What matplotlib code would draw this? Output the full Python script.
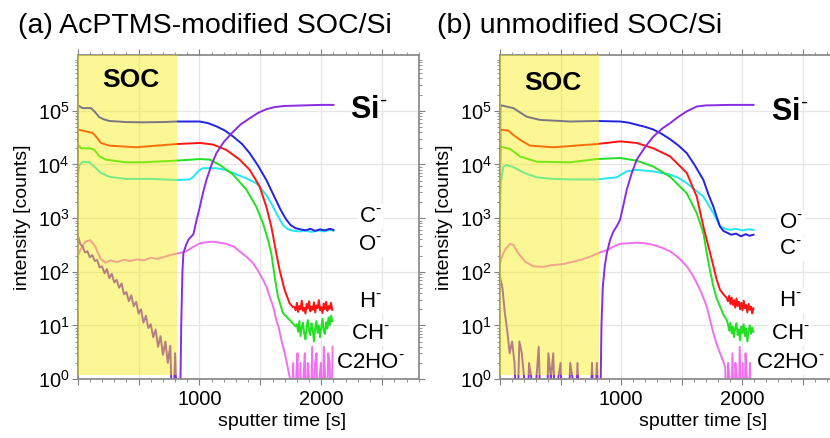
import numpy as np
import matplotlib.pyplot as plt
from matplotlib.ticker import MultipleLocator, FixedLocator, LogLocator, NullFormatter, FuncFormatter

plt.rcParams['font.family'] = ['Liberation Sans', 'DejaVu Sans']
plt.rcParams['mathtext.fontset'] = 'custom'
plt.rcParams['mathtext.rm'] = 'Liberation Sans'
plt.rcParams['mathtext.bf'] = 'Liberation Sans:bold'

# sputter time in s, intensities as log10(counts); -1 = zero counts (off the axis)

# ---- (a) AcPTMS-modified SOC/Si ----
a_c_t = [0, 3, 40, 109, 137, 178, 215, 260, 396, 533, 700, 812, 1003, 1070, 1139, 1210, 1276,
         1350, 1412, 1480, 1549, 1610, 1667, 1710, 1748, 1790, 1830, 1870, 1910, 1950, 1990,
         2030, 2070, 2100]
a_c = [3.5, 5.10, 5.05, 5.05, 4.99, 4.88, 4.84, 4.81, 4.79, 4.785, 4.79, 4.80, 4.80, 4.77, 4.71,
       4.63, 4.52, 4.38, 4.21, 3.98, 3.71, 3.42, 3.15, 2.98, 2.87, 2.81, 2.79, 2.77, 2.80, 2.76,
       2.79, 2.77, 2.80, 2.78]

a_o_t = [0, 3, 14, 41, 96, 137, 191, 260, 396, 600, 812, 921, 950, 976, 1003, 1030, 1139, 1210,
         1276, 1330, 1385, 1467, 1549, 1590, 1631, 1660, 1685, 1715, 1740, 1780, 1822, 1870,
         1920, 1970, 2020, 2070, 2100]
a_o = [3.0, 3.81, 3.99, 4.05, 4.04, 3.96, 3.84, 3.77, 3.73, 3.73, 3.71, 3.72, 3.77, 3.84, 3.90,
       3.93, 3.93, 3.90, 3.84, 3.79, 3.74, 3.65, 3.43, 3.27, 3.09, 2.97, 2.87, 2.81, 2.78, 2.76,
       2.75, 2.77, 2.74, 2.77, 2.75, 2.78, 2.76]

a_h_t = [0, 3, 60, 95, 122, 150, 191, 260, 478, 812, 1003, 1112, 1221, 1330, 1412, 1494, 1549,
         1590, 1631, 1658, 1699, 1740, 1767]
a_h = [3.8, 4.65, 4.62, 4.60, 4.59, 4.52, 4.40, 4.35, 4.32, 4.38, 4.40, 4.37, 4.27, 4.09, 3.90,
       3.59, 3.21, 2.84, 2.34, 2.03, 1.66, 1.41, 1.34]
a_h_tail = [1.34, 1.28, 1.42, 1.25, 1.36, 1.30, 1.46, 1.27, 1.33, 1.22, 1.40, 1.31, 1.45, 1.26,
            1.35, 1.29, 1.43, 1.24, 1.37, 1.32, 1.47, 1.28, 1.34, 1.23, 1.41, 1.30, 1.44, 1.27,
            1.36, 1.31, 1.42, 1.29]  # every 10 s from 1780 s

a_ch_t = [0, 3, 27, 109, 137, 178, 232, 396, 533, 805, 1003, 1085, 1167, 1276, 1385, 1467, 1522,
          1563, 1590, 1617, 1644, 1685, 1740, 1790]
a_ch = [3.6, 4.37, 4.30, 4.30, 4.27, 4.15, 4.09, 4.04, 4.04, 4.07, 4.10, 4.09, 3.99, 3.81, 3.53,
        3.21, 2.90, 2.59, 2.34, 1.91, 1.54, 1.23, 1.10, 0.98]
a_ch_tail = [1.02, 0.88, 1.08, 0.80, 0.97, 1.05, 0.85, 0.74, 0.98, 1.10, 0.90, 0.82, 1.04, 0.93,
             0.70, 0.95, 1.08, 0.86, 1.00, 0.78, 0.96, 1.12, 0.90, 0.84, 1.06, 0.94, 1.15, 1.00,
             1.18, 1.08]  # every 10 s from 1800 s

a_c2ho_t = [0, 20, 62, 103, 144, 185, 226, 270, 322, 380, 430, 486, 540, 600, 650, 700, 760, 814,
            882, 940, 1003, 1060, 1112, 1170, 1221, 1280, 1330, 1390, 1440, 1480, 1522, 1550,
            1576, 1605, 1631, 1652, 1672, 1692, 1713, 1730]
a_c2ho = [2.28, 2.40, 2.56, 2.59, 2.47, 2.25, 2.17, 2.21, 2.18, 2.22, 2.20, 2.23, 2.21, 2.26, 2.24,
          2.27, 2.31, 2.34, 2.37, 2.45, 2.53, 2.55, 2.56, 2.54, 2.52, 2.47, 2.38, 2.27, 2.16, 2.02,
          1.85, 1.72, 1.54, 1.35, 1.10, 0.95, 0.73, 0.55, 0.35, 0.15]
a_c2ho_tail = [0.0, -1, 0.30, -1, 0.0, 0.48, -1, 0.30, -1, 0.0, 0.48, -1, 0.30, 0.0, -1, 0.60,
               -1, 0.30, 0.48, -1, 0.0, 0.30, -1, 0.60, 0.0, -1, 0.48, 0.30, -1, 0.60]  # every 12 s from 1745 s

a_si_early = [2.69, 2.52, 2.47, 2.36, 2.38, 2.27, 2.31, 2.20, 2.22, 2.08, 2.10, 1.97, 2.05, 1.88,
              1.96, 1.80, 1.85, 1.70, 1.78, 1.58, 1.62, 1.45, 1.56, 1.36, 1.44, 1.22, 1.30, 1.05,
              1.18, 0.95, 1.02, 0.78, 0.92, 0.60, 0.80, 0.45, 0.70, 0.30, 0.62, -1, 0.48, -1]  # every 20 s from 0
a_si_t = [838, 850, 860, 868, 890, 910, 950, 975, 1003, 1030, 1057, 1100, 1139, 1200, 1276, 1340,
          1412, 1480, 1549, 1620, 1700, 1850, 2000, 2100]
a_si = [-1, 1.0, 2.0, 2.35, 2.5, 2.6, 2.7, 2.95, 3.21, 3.48, 3.71, 4.0, 4.21, 4.42, 4.61, 4.75,
        4.86, 4.96, 5.03, 5.07, 5.09, 5.10, 5.11, 5.11]

# ---- (b) unmodified SOC/Si ----
b_c_t = [0, 3, 14, 50, 110, 165, 220, 330, 579, 799, 992, 1060, 1129, 1200, 1267, 1335, 1405,
         1475, 1543, 1610, 1680, 1720, 1763, 1790, 1818, 1845, 1873, 1910, 1950, 1990, 2030,
         2060, 2094]
b_c = [3.5, 5.10, 5.10, 5.08, 5.05, 4.97, 4.89, 4.83, 4.80, 4.81, 4.80, 4.78, 4.74, 4.70, 4.65,
       4.57, 4.47, 4.35, 4.21, 3.98, 3.71, 3.45, 3.21, 3.02, 2.84, 2.76, 2.73, 2.69, 2.71, 2.66,
       2.70, 2.67, 2.69]

b_o_t = [0, 6, 28, 55, 110, 193, 303, 441, 600, 799, 964, 1000, 1047, 1129, 1267, 1405, 1475,
         1543, 1610, 1680, 1763, 1818, 1860, 1901, 1950, 2000, 2050, 2094]
b_o = [3.0, 3.65, 3.96, 3.99, 3.95, 3.85, 3.76, 3.73, 3.72, 3.72, 3.76, 3.81, 3.87, 3.90, 3.87,
       3.81, 3.75, 3.65, 3.53, 3.40, 3.09, 2.84, 2.80, 2.78, 2.80, 2.77, 2.79, 2.78]

b_h_t = [0, 3, 69, 110, 165, 248, 441, 799, 992, 1129, 1267, 1405, 1543, 1625, 1680, 1708, 1750,
         1790, 1818, 1845, 1873]
b_h = [3.8, 4.65, 4.63, 4.55, 4.46, 4.35, 4.32, 4.38, 4.43, 4.40, 4.30, 4.15, 3.84, 3.40, 2.84,
       2.59, 2.22, 1.85, 1.66, 1.58, 1.51]
b_h_tail = [1.45, 1.55, 1.40, 1.52, 1.38, 1.47, 1.33, 1.50, 1.36, 1.44, 1.30, 1.42, 1.28, 1.46,
            1.32, 1.38, 1.24, 1.40, 1.29, 1.35, 1.22, 1.32]  # every 10 s from 1883 s

b_ch_t = [0, 3, 83, 165, 303, 579, 799, 992, 1129, 1267, 1405, 1543, 1625, 1680, 1708, 1735,
          1763, 1790, 1818, 1845, 1873]
b_ch = [3.6, 4.33, 4.29, 4.15, 4.05, 4.04, 4.10, 4.12, 4.07, 3.96, 3.77, 3.46, 3.09, 2.72, 2.34,
        2.02, 1.72, 1.50, 1.35, 1.20, 1.10]
b_ch_tail = [1.02, 0.90, 1.05, 0.85, 0.98, 0.78, 0.95, 1.04, 0.82, 0.92, 0.72, 0.98, 0.86, 1.02,
             0.80, 0.94, 0.70, 0.90, 1.00, 0.84, 0.96, 0.88]  # every 10 s from 1883 s

b_c2ho_t = [0, 20, 41, 83, 110, 152, 207, 275, 358, 420, 468, 540, 606, 680, 744, 826, 882, 940,
            992, 1060, 1129, 1200, 1267, 1335, 1405, 1475, 1543, 1585, 1625, 1665, 1708, 1735,
            1763, 1790, 1818, 1840, 1860]
b_c2ho = [2.16, 2.30, 2.41, 2.52, 2.50, 2.34, 2.19, 2.10, 2.09, 2.12, 2.13, 2.15, 2.19, 2.23,
          2.28, 2.36, 2.40, 2.47, 2.52, 2.53, 2.54, 2.53, 2.50, 2.45, 2.38, 2.26, 2.10, 1.96, 1.79,
          1.60, 1.35, 1.10, 0.85, 0.65, 0.48, 0.35, 0.23]
b_c2ho_tail = [-1, 0.30, 0.0, -1, 0.48, -1, 0.30, 0.0, -1, 0.60, -1, 0.30, -1, 0.48, 0.0, -1,
               0.30, -1]  # every 12 s from 1872 s

b_si_early = [1.90, 1.70, 1.23, 0.90, 0.48, 0.70, 0.30, -1, 0.70, 0.48, 0.0, -1, 0.30, 0.0, -1,
              0.0, 0.60, -1, 0.0, -1, 0.48, 0.0, 0.48, -1, 0.0, 0.30, -1, 0.0, -1, 0.30, 0.0, -1,
              0.30, -1, 0.0, -1, 0.0, -1, 0.30, -1, 0.30, -1]  # every 20 s from 0
b_si_t = [826, 838, 849, 865, 882, 910, 937, 965, 992, 1020, 1047, 1090, 1130, 1200, 1267, 1340,
          1405, 1475, 1543, 1625, 1700, 1900, 2094]
b_si = [-1, 1.0, 1.72, 2.1, 2.34, 2.6, 2.75, 2.85, 2.97, 3.25, 3.53, 3.85, 4.09, 4.33, 4.52, 4.67,
        4.77, 4.89, 4.99, 5.08, 5.10, 5.11, 5.11]

soc_end = 817
colors = {'C': '#2222e6', 'O': '#22e6f0', 'H': '#ff1414', 'CH': '#22e022',
          'C2HO': '#f070f0', 'Si': '#8a2be2'}


def join(t, v, tail, t0, step):
    tt = list(t) + list(t0 + step * np.arange(len(tail)))
    return np.array(tt), 10.0 ** np.array(list(v) + list(tail))


def ion(name):
    # small hyphen as superscript, like the original labels
    return name + r'$^{\text{-}}$'


def panel(ax, series, labels, si_y, soc_y):
    for key, (t, v) in series.items():
        ax.plot(t, v, color=colors[key], lw=1.4, zorder=2)
    ax.set_yscale('log')
    ax.set_xlim(0, 2800)
    ax.set_ylim(1, 10 ** 6.04)
    ax.axvspan(0, soc_end, ymin=0.075 / 6.04, ymax=1, facecolor='#f5ee00', alpha=0.42,
               lw=0, zorder=3)
    ax.xaxis.set_major_locator(MultipleLocator(500))
    ax.xaxis.set_minor_locator(MultipleLocator(100))
    ax.xaxis.set_major_formatter(FuncFormatter(lambda v, p: f'{v:.0f}' if v in (1000, 2000) else ''))
    ax.yaxis.set_major_locator(FixedLocator([1, 10, 100, 1e3, 1e4, 1e5]))
    ax.yaxis.set_minor_locator(LogLocator(base=10, subs=np.arange(2, 10)))
    ax.yaxis.set_minor_formatter(NullFormatter())
    ax.tick_params(which='both', direction='out', top=True, right=True, color='#808080',
                   labelsize=14.5)
    ax.tick_params(which='major', length=4)
    ax.tick_params(which='minor', length=2.5)
    ax.tick_params(axis='x', pad=4)
    ax.tick_params(axis='y', pad=2)
    ax.grid(True, which='major', color='#e6e6e6', lw=0.9, zorder=0)
    for s in ax.spines.values():
        s.set_color('#8c8c8c')
        s.set_linewidth(1.3)
    ax.text(440, soc_y, 'SOC', fontsize=19, fontweight='bold', ha='center', va='center', zorder=4)
    ax.text(2390, si_y, r'$\mathbf{Si}^{\text{-}}$', fontsize=22, ha='center',
            va='center', zorder=4)
    for txt, ly in labels:
        ax.text(2400, 10 ** ly, ion(txt), fontsize=16, ha='center', va='center', zorder=4,
                bbox=dict(facecolor='white', edgecolor='none', pad=1.5))
    ax.text(0.598, -0.130, 'sputter time [s]', fontsize=14, ha='center', va='center',
            transform=ax.transAxes)
    ax.text(-0.163, 0.5, 'intensity [counts]', fontsize=14, ha='center', va='center',
            rotation=90, transform=ax.transAxes)


fig = plt.figure(figsize=(8.3, 4.38), dpi=100)
ax_a = fig.add_axes([77.7 / 830, 1 - 379 / 438, 341 / 830, 324 / 438])
ax_b = fig.add_axes([500 / 830, 1 - 379 / 438, 339 / 830, 324 / 438])

a_si_full_t = list(20 * np.arange(len(a_si_early))) + a_si_t
b_si_full_t = list(20 * np.arange(len(b_si_early))) + b_si_t

series_a = {
    'O': (np.array(a_o_t), 10.0 ** np.array(a_o)),
    'C': (np.array(a_c_t), 10.0 ** np.array(a_c)),
    'CH': join(a_ch_t, a_ch, a_ch_tail, 1800, 10),
    'H': join(a_h_t, a_h, a_h_tail, 1780, 10),
    'C2HO': join(a_c2ho_t, a_c2ho, a_c2ho_tail, 1745, 12),
    'Si': (np.array(a_si_full_t), 10.0 ** np.array(a_si_early + a_si)),
}
series_b = {
    'O': (np.array(b_o_t), 10.0 ** np.array(b_o)),
    'C': (np.array(b_c_t), 10.0 ** np.array(b_c)),
    'CH': join(b_ch_t, b_ch, b_ch_tail, 1883, 10),
    'H': join(b_h_t, b_h, b_h_tail, 1883, 10),
    'C2HO': join(b_c2ho_t, b_c2ho, b_c2ho_tail, 1872, 12),
    'Si': (np.array(b_si_full_t), 10.0 ** np.array(b_si_early + b_si)),
}

panel(ax_a, series_a,
      [('C', 3.03), ('O', 2.50), ('H', 1.44), ('CH', 0.85), ('C2HO', 0.30)],
      10 ** 5.02, 10 ** 5.58)
panel(ax_b, series_b,
      [('O', 2.91), ('C', 2.44), ('H', 1.46), ('CH', 0.84), ('C2HO', 0.31)],
      10 ** 4.98, 10 ** 5.52)

fig.text(18 / 830, 1 - 33 / 438, '(a) AcPTMS-modified SOC/Si', fontsize=20.5, ha='left',
         va='baseline')
fig.text(437 / 830, 1 - 33 / 438, '(b) unmodified SOC/Si', fontsize=20.5, ha='left',
         va='baseline')

fig.savefig('out.png', dpi=100)
